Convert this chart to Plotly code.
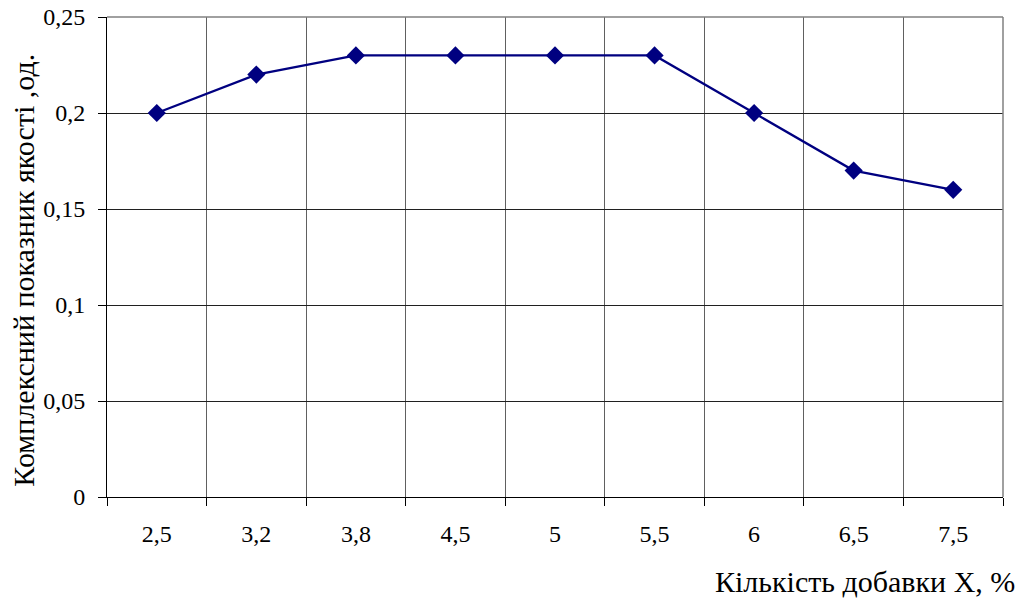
import plotly.graph_objects as go

# Additive amount (%) and complex quality index values
additive = ["2,5", "3,2", "3,8", "4,5", "5", "5,5", "6", "6,5", "7,5"]
quality = [0.20, 0.22, 0.23, 0.23, 0.23, 0.23, 0.20, 0.17, 0.16]

y_ticks = [0, 0.05, 0.10, 0.15, 0.20, 0.25]

FONT = "Times New Roman"
NAVY = "#000080"
tick_font = dict(family=FONT, size=24, color="black")
title_font = dict(family=FONT, size=30, color="black")

fig = go.Figure(
    go.Scatter(
        x=additive,
        y=quality,
        mode="lines+markers",
        line=dict(color=NAVY, width=2.3),
        marker=dict(symbol="diamond", size=14, color=NAVY),
        showlegend=False,
    )
)

fig.update_layout(
    template="none",
    width=1021,
    height=598,
    margin=dict(l=107, r=18, t=17, b=101),
    paper_bgcolor="white",
    plot_bgcolor="white",
    separators=", ",
    font=tick_font,
    xaxis=dict(
        type="category",
        tickson="boundaries",
        automargin=False,
        showgrid=True,
        gridcolor="#606060",
        gridwidth=1,
        showline=True,
        linecolor="black",
        linewidth=1,
        ticks="outside",
        ticklen=8,
        tickcolor="black",
        ticklabelstandoff=15,
        tickfont=tick_font,
        range=[-0.5, len(additive) - 0.5],
    ),
    yaxis=dict(
        range=[0, 0.25],
        tickvals=y_ticks,
        tickformat="~g",
        automargin=False,
        showgrid=True,
        gridcolor="#202020",
        gridwidth=1,
        zeroline=False,
        showline=True,
        linecolor="black",
        linewidth=1,
        ticks="outside",
        ticklen=8,
        tickcolor="black",
        ticklabelstandoff=8,
        tickfont=tick_font,
    ),
    shapes=[
        # grey frame on the top and right of the plotting area
        dict(type="line", xref="paper", yref="paper", x0=0, x1=1, y0=1, y1=1,
             line=dict(color="#808080", width=1.5)),
        dict(type="line", xref="paper", yref="paper", x0=1, x1=1, y0=0, y1=1,
             line=dict(color="#808080", width=1.5)),
    ],
    annotations=[
        dict(text="Кількість добавки X, %", xref="paper", yref="paper",
             x=1.0156, y=-0.177, xanchor="right", yanchor="middle",
             showarrow=False, font=title_font),
        dict(text="Комплексний показник якості ,од.", xref="paper", yref="paper",
             x=-0.093, y=0.473, xanchor="center", yanchor="middle", textangle=-90,
             showarrow=False, font=title_font),
    ],
)

fig.write_html("out.html")
